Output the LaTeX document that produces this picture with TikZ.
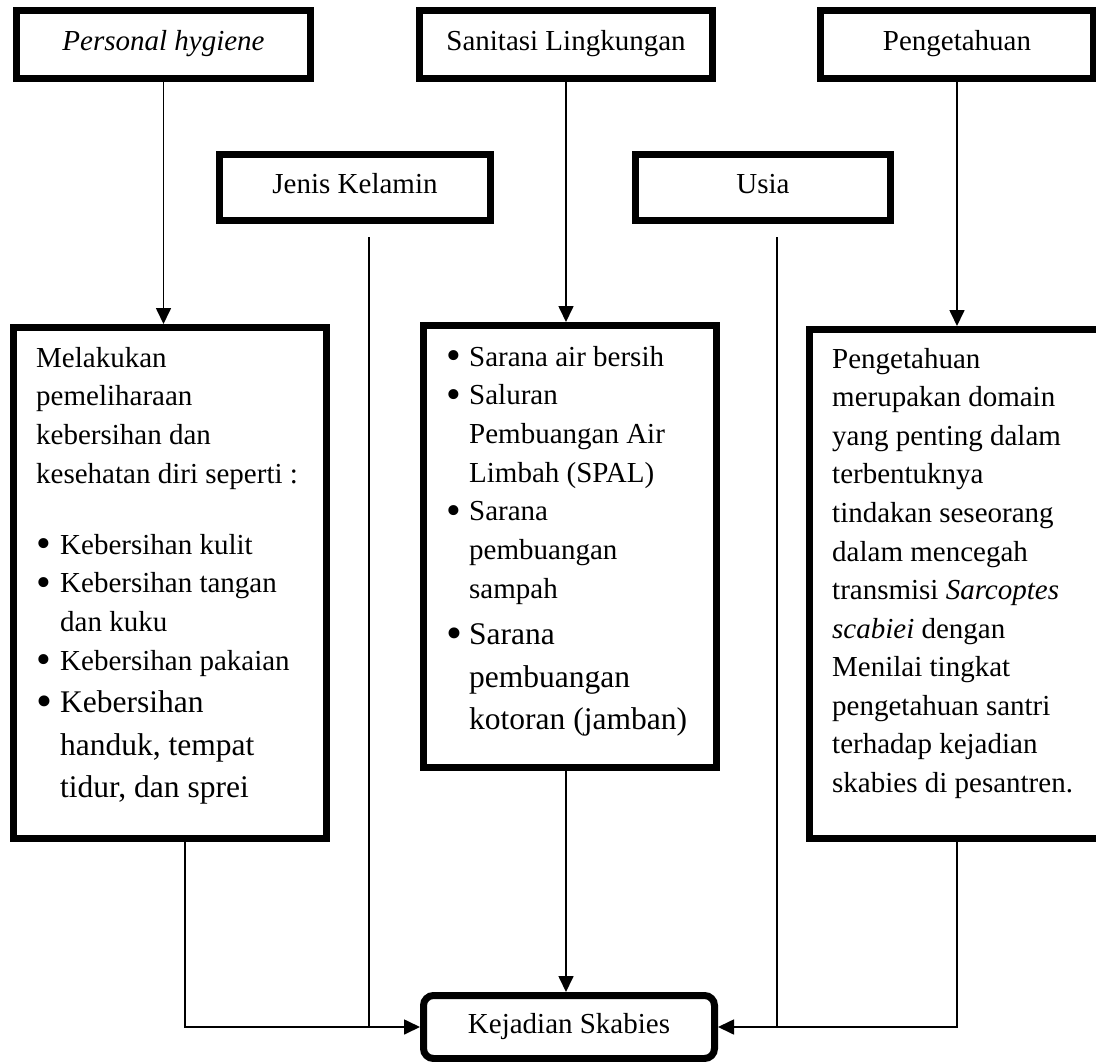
\documentclass[tikz,border=0pt]{standalone}
\usepackage{fontspec}
\setmainfont{Liberation Serif}
\usetikzlibrary{arrows.meta}
\newcommand\itm[1]{\makebox[#1][l]{\raisebox{-3.6pt}{\scalebox{1.45}{\textbullet}}}}
\newcommand\hng[1]{\hspace*{#1}}
\tikzset{
  box/.style={draw, line width=7pt, rectangle, inner sep=0pt},
  lbl/.style={font=\fontsize{29}{34}\selectfont, text height=20pt, text depth=7pt},
  conn/.style={line width=1.7pt},
  arr/.style={conn, -{Triangle[length=16pt,width=15pt]}},
  body/.style={anchor=base west, inner sep=0pt},
}
\begin{document}
\begin{tikzpicture}[x=1pt,y=-1pt]
\useasboundingbox (0,0) rectangle (1096,1062);
% top boxes
\node[box, lbl, minimum width=294pt, minimum height=68pt] (ph) at (163.5,44.5) {\textit{Personal hygiene}};
\node[box, lbl, minimum width=293pt, minimum height=68pt] (san) at (566,44.5) {Sanitasi Lingkungan};
\node[box, lbl, minimum width=273pt, minimum height=68pt] (pen) at (957,44.5) {Pengetahuan};
\node[box, lbl, minimum width=271pt, minimum height=66pt] (jk) at (355,187.5) {Jenis Kelamin};
\node[box, lbl, minimum width=255pt, minimum height=66pt] (us) at (763,187.5) {Usia};
% big boxes
\node[box, minimum width=313pt, minimum height=511pt] (lbox) at (170,583) {};
\node[box, minimum width=293pt, minimum height=442pt] (mbox) at (570,546.5) {};
\node[box, minimum width=298pt, minimum height=509pt] (rbox) at (958.75,584) {};
\node[box, lbl, rounded corners=10pt, minimum width=291pt, minimum height=63pt] (kej) at (569,1027) {Kejadian Skabies};
% texts
\node[body] (ltxt) at (36,367) {\parbox[t]{400pt}{\raggedright\fontsize{29}{38.7}\selectfont
Melakukan\\
pemeliharaan\\
kebersihan dan\\
kesehatan diri seperti :\\[32.2pt]
\itm{24pt}Kebersihan kulit\\
\itm{24pt}Kebersihan tangan\\
\hng{24pt}dan kuku\\
\itm{24pt}Kebersihan pakaian\par
\fontsize{31.5}{42.5}\selectfont
\itm{24pt}Kebersihan\\
\hng{24pt}handuk, tempat\\
\hng{24pt}tidur, dan sprei}};
\node[body] (mtxt) at (446,366) {\parbox[t]{400pt}{\raggedright\fontsize{29}{38.7}\selectfont
\itm{23pt}Sarana air bersih\\
\itm{23pt}Saluran\\
\hng{23pt}Pembuangan Air\\
\hng{23pt}Limbah (SPAL)\\
\itm{23pt}Sarana\\
\hng{23pt}pembuangan\\
\hng{23pt}sampah\par
\vspace{4pt}\fontsize{31.5}{42.5}\selectfont
\itm{23pt}Sarana\\
\hng{23pt}pembuangan\\
\hng{23pt}kotoran (jamban)}};
\node[body] (rtxt) at (832,368) {\parbox[t]{400pt}{\raggedright\fontsize{29}{38.6}\selectfont
Pengetahuan\\
merupakan domain\\
yang penting dalam\\
terbentuknya\\
tindakan seseorang\\
dalam mencegah\\
transmisi \textit{Sarcoptes}\\
\textit{scabiei} dengan\\
Menilai tingkat\\
pengetahuan santri\\
terhadap kejadian\\
skabies di pesantren.}};
% connectors
\draw[arr] (ph.south) -- (ph.south |- lbox.north);
\draw[arr] (san.south) -- (san.south |- mbox.north);
\draw[arr] (pen.south) -- (pen.south |- rbox.north);
\coordinate (lj) at (185,1025);
\coordinate (jkt) at (369,237);
\coordinate (ust) at (777,237);
\draw[conn] (jkt) -- (jkt |- kej.west);
\draw[conn] (ust) -- (ust |- kej.west);
\draw[arr] (lbox.south -| lj) |- (kej.west);
\draw[arr] (san.south |- mbox.south) -- (san.south |- kej.north);
\draw[arr] (pen.south |- rbox.south) |- (kej.east);
\end{tikzpicture}
\end{document}
